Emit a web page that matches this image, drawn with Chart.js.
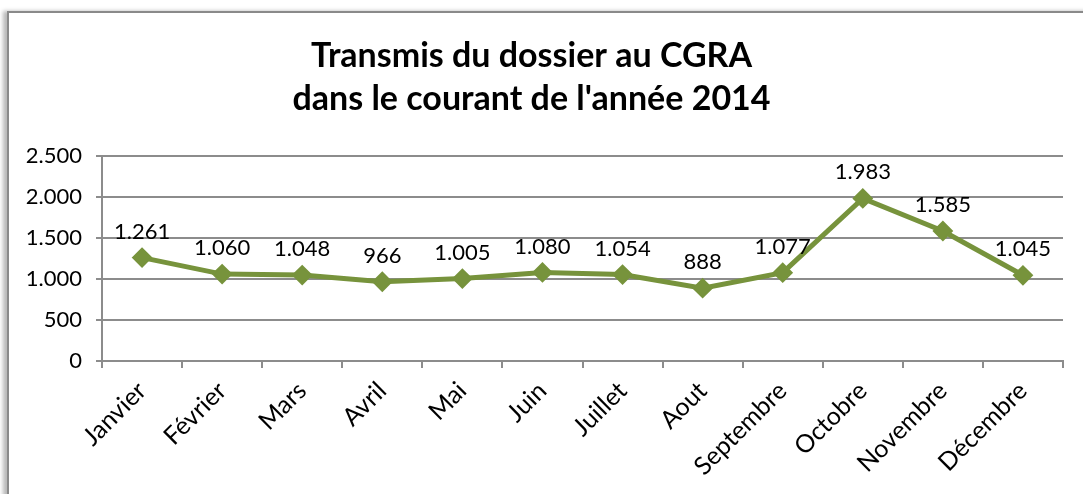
<!DOCTYPE html>
<html>
<head>
<meta charset="utf-8">
<script src="https://cdn.jsdelivr.net/npm/chart.js@4"></script>
<style>
  html, body { margin: 0; padding: 0; background: #ffffff; }
  body { width: 1083px; height: 494px; position: relative; overflow: hidden; }
  #frame { position: absolute; left: 7px; top: 11px; width: 1090px; height: 500px;
           border-left: 2px solid #8a8a8a; border-top: 2px solid #8a8a8a;
           box-shadow: -4px 0 4px rgba(0,0,0,0.28); background: #fff; }
  #wrap { position: absolute; left: 0; top: 0; width: 1083px; height: 494px; }
</style>
</head>
<body>
<div id="frame"></div>
<div id="wrap"><canvas id="c" width="1083" height="494"></canvas></div>
<script>
const categories = ['Janvier','Février','Mars','Avril','Mai','Juin','Juillet','Aout','Septembre','Octobre','Novembre','Décembre'];
const values = [1261, 1060, 1048, 966, 1005, 1080, 1054, 888, 1077, 1983, 1585, 1045];
const titleLines = ['Transmis du dossier au CGRA', "dans le courant de l'année 2014"];
const yTicks = [0, 500, 1000, 1500, 2000, 2500];

const FONT = 'Lato, "Open Sans", sans-serif';
const GREEN = '#77933C';
const GRID = '#8c8c8c';

function fmt(v) {
  return String(v).replace(/\B(?=(\d{3})+(?!\d))/g, '.');
}

const dataLabels = {
  id: 'dataLabels',
  afterDatasetsDraw(chart) {
    const ctx = chart.ctx;
    const meta = chart.getDatasetMeta(0);
    ctx.save();
    ctx.font = '22px ' + FONT;
    ctx.fillStyle = '#000';
    ctx.textAlign = 'center';
    ctx.textBaseline = 'middle';
    meta.data.forEach((pt, i) => {
      ctx.fillText(fmt(chart.data.datasets[0].data[i]), pt.x, pt.y - 26);
    });
    ctx.restore();
  }
};

new Chart(document.getElementById('c'), {
  type: 'line',
  data: {
    labels: categories,
    datasets: [{
      data: values,
      borderColor: GREEN,
      backgroundColor: GREEN,
      borderWidth: 5,
      pointStyle: 'rectRot',
      pointRadius: 9,
      pointBorderWidth: 2,
      pointBackgroundColor: GREEN,
      pointBorderColor: GREEN,
      tension: 0,
      clip: false
    }]
  },
  options: {
    responsive: false,
    animation: false,
    devicePixelRatio: 1,
    layout: { padding: { left: 0, right: 20, top: 0, bottom: 0 } },
    plugins: {
      legend: { display: false },
      tooltip: { enabled: false },
      title: {
        display: true,
        text: titleLines,
        color: '#000',
        font: { family: FONT, size: 34, weight: 'bold', lineHeight: 1.25 },
        padding: { top: 35, bottom: 36 }
      }
    },
    scales: {
      x: {
        offset: true,
        grid: { display: true, drawOnChartArea: false, drawTicks: true, tickLength: 7, color: GRID, lineWidth: 2, offset: true },
        border: { display: true, color: GRID, width: 2 },
        ticks: { color: '#000', font: { family: FONT, size: 25 }, maxRotation: 45, minRotation: 45, padding: 8, autoSkip: false },
        afterFit(s) { s.height = 133; }
      },
      y: {
        min: 0, max: 2500,
        afterBuildTicks(s) { s.ticks = yTicks.map(v => ({ value: v })); },
        grid: { color: GRID, lineWidth: 2, drawTicks: true, tickLength: 6 },
        border: { display: true, color: GRID, width: 2 },
        ticks: { color: '#000', font: { family: FONT, size: 22 }, padding: 14, callback: v => fmt(v) },
        afterFit(s) { s.width = 102; }
      }
    }
  },
  plugins: [dataLabels]
});
</script>
</body>
</html>
